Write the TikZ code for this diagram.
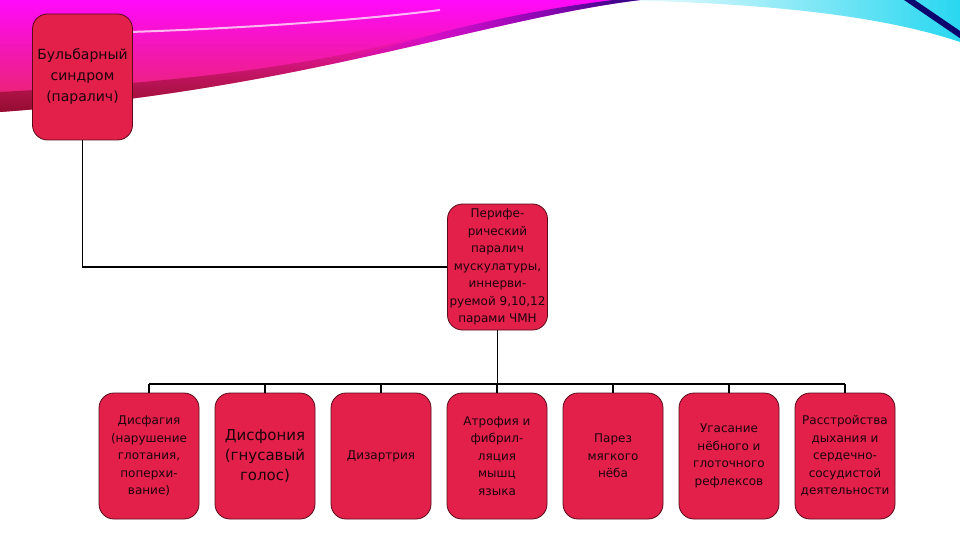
\documentclass[tikz,border=0pt]{standalone}
\usepackage{fontspec}
\setmainfont{DejaVu Sans}
\usetikzlibrary{fadings}
\definecolor{rouge}{RGB}{226,32,74}
\definecolor{bord}{RGB}{90,10,25}
\definecolor{encre}{RGB}{30,5,12}
\definecolor{marine}{RGB}{12,4,110}
\definecolor{fuchsia}{RGB}{255,10,250}
\definecolor{cerise}{RGB}{230,40,90}
\definecolor{grenat}{RGB}{140,10,45}
\definecolor{turquoise}{RGB}{40,215,240}
\tikzfading[name=fonduhaut, top color=transparent!100, bottom color=transparent!0]
\tikzfading[name=fondugauche, left color=transparent!100, right color=transparent!0]
\tikzset{
  boite/.style={draw=bord, line width=0.8pt, fill=rouge, rounded corners=15pt,
    minimum width=100pt, minimum height=126pt, inner sep=1pt, align=center,
    text=encre, font=\fontsize{12}{17.5}\selectfont},
  lien/.style={line width=1.6pt, black}
}
\begin{document}
\begin{tikzpicture}[x=1pt, y=-1pt]
    \useasboundingbox (0,0) rectangle (960,540);
    % Fond
    \fill[white] (0,0) rectangle (960,540);
    \shade[left color=white, right color=turquoise] (600,0) .. controls (760,2) and (880,15) .. (960,42) -- (960,0) -- cycle;
    \draw[marine, line width=6pt] (905,-3) -- (965,38);
    \begin{scope}
        \clip (0,0) -- (640,0) .. controls (480,20) and (300,90) .. (0,112) -- cycle;
        \shade[top color=fuchsia, bottom color=cerise] (0,0) rectangle (640,115);
        \fill[grenat, path fading=fonduhaut] (0,120) -- (0,92) .. controls (150,84) and (300,70) .. (420,36) -- (420,120) -- cycle;
        \shade[left color=fuchsia, right color=marine, path fading=fondugauche] (280,120) -- (280,80) .. controls (420,35) and (520,8) .. (660,-5) -- (660,120) -- cycle;
        \draw[white, line width=2pt, opacity=0.7] (130,32) .. controls (250,28) and (360,20) .. (440,10);
    \end{scope}
    % Boites
    \node[boite, font=\fontsize{14}{21}\selectfont] (bulbar) at (82.5,77) {Бульбарный\\синдром\\(паралич)};
    \node[boite] (perif) at (497.5,267) {Перифе-\\рический\\паралич\\мускулатуры,\\иннерви-\\руемой 9,10,12\\парами ЧМН};
    \node[boite] (disfag) at (149,456) {Дисфагия\\(нарушение\\глотания,\\поперхи-\\вание)};
    \node[boite, font=\fontsize{15}{20}\selectfont] (disfon) at (265,456) {Дисфония\\(гнусавый\\голос)};
    \node[boite] (dizart) at (381,456) {Дизартрия};
    \node[boite] (atrof) at (497,456) {Атрофия и\\фибрил-\\ляция\\мышц\\языка};
    \node[boite] (parez) at (613,456) {Парез\\мягкого\\нёба};
    \node[boite] (ugas) at (729,456) {Угасание\\нёбного и\\глоточного\\рефлексов};
    \node[boite] (rasstr) at (845,456) {Расстройства\\дыхания и\\сердечно-\\сосудистой\\деятельности};
    % Liaisons
    \coordinate (bus) at (0,384);
    \draw[lien] (bulbar.south) |- (perif.west);
    \draw[lien] (perif.south) -- (perif.south |- bus);
    \draw[lien] (disfag.north |- bus) -- (rasstr.north |- bus);
    \draw[lien] (disfag.north) -- (disfag.north |- bus);
    \draw[lien] (disfon.north) -- (disfon.north |- bus);
    \draw[lien] (dizart.north) -- (dizart.north |- bus);
    \draw[lien] (atrof.north) -- (atrof.north |- bus);
    \draw[lien] (parez.north) -- (parez.north |- bus);
    \draw[lien] (ugas.north) -- (ugas.north |- bus);
    \draw[lien] (rasstr.north) -- (rasstr.north |- bus);
\end{tikzpicture}
\end{document}
